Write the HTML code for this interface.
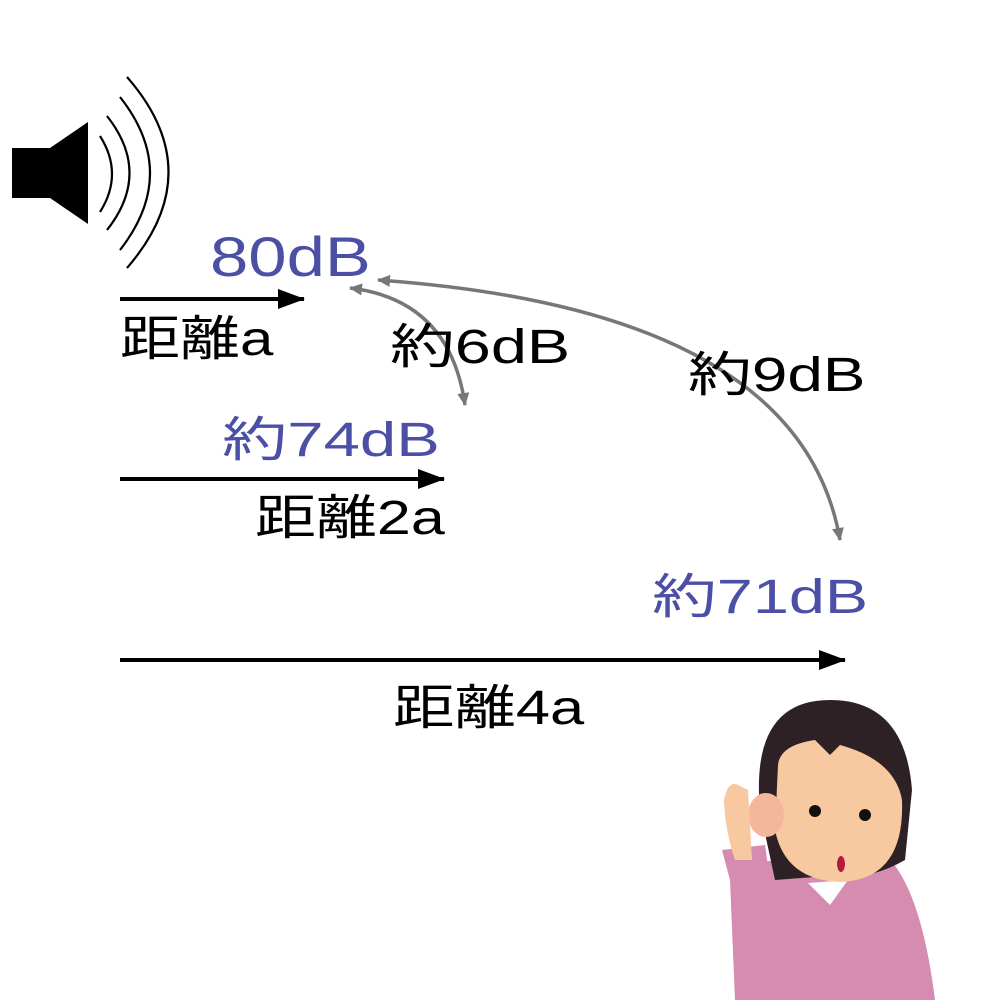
<!DOCTYPE html>
<html><head><meta charset="utf-8"><style>
html,body{margin:0;padding:0;background:#fff}
.t{position:absolute;font-family:"Liberation Sans","Noto Sans CJK JP",sans-serif;white-space:nowrap;line-height:1;transform-origin:0 0}
.b{color:#4b4fa6}
</style></head><body>
<div style="position:relative;width:1000px;height:1000px;overflow:hidden">
<svg width="1000" height="1000" style="position:absolute;left:0;top:0">
<defs>
<marker id="ag" markerWidth="14" markerHeight="14" refX="12" refY="7" orient="auto-start-reverse" markerUnits="userSpaceOnUse"><path d="M0,1 L13,7 L0,13z" fill="#777"/></marker>
<marker id="bk" markerWidth="28" markerHeight="20" refX="26" refY="10" orient="auto" markerUnits="userSpaceOnUse"><path d="M0,0 L27,10 L0,20z" fill="#000"/></marker>
</defs>
<rect x="12" y="148" width="38" height="50" fill="#000"/>
<path d="M50,148 L88,122 L88,224 L50,198z" fill="#000"/>
<g fill="none" stroke="#000" stroke-width="2.2">
<path d="M100,136 Q124,174 100,212"/>
<path d="M107,116 Q152,173 107,230"/>
<path d="M120,97 Q180,173 120,250"/>
<path d="M127,77 Q210,172 127,268"/>
</g>
<g stroke="#000" stroke-width="4">
<line x1="120" y1="299" x2="304" y2="299" marker-end="url(#bk)"/>
<line x1="120" y1="479" x2="444" y2="479" marker-end="url(#bk)"/>
<line x1="120" y1="660" x2="845" y2="660" marker-end="url(#bk)"/>
</g>
<g fill="none" stroke="#777" stroke-width="3.5">
<path d="M350,288 Q450,300 465,405" marker-start="url(#ag)" marker-end="url(#ag)"/>
<path d="M378,280 Q800,310 840,540" marker-start="url(#ag)" marker-end="url(#ag)"/>
</g>
<path d="M735,1000 L730,880 Q740,860 790,860 L880,850 Q920,880 935,1000z" fill="#d58cb0"/>
<path d="M730,880 L722,850 L765,845 L770,880z" fill="#d58cb0"/>
<path d="M808,883 L830,905 L848,880z" fill="#fff"/>
<path d="M760,810 Q750,700 830,700 Q905,700 912,790 L905,860 Q870,880 840,875 L775,880z" fill="#2e2125"/>
<path d="M778,765 Q780,745 815,740 L830,755 L840,745 Q895,760 902,800 Q905,880 840,882 Q785,880 775,830z" fill="#f8c8a0"/>
<ellipse cx="766" cy="815" rx="18" ry="22" fill="#f4b79c"/>
<path d="M724,800 Q728,780 738,785 L748,790 L752,860 L735,860 Q725,830 724,800z" fill="#f8c8a0"/>
<circle cx="815" cy="811" r="6" fill="#111"/><circle cx="865" cy="815" r="6" fill="#111"/>
<ellipse cx="841" cy="864" rx="4" ry="8" fill="#b01c3c"/>
</svg>
<div class="t b" style="left:210px;top:229px;font-size:56px;transform:scaleX(1.23)">80dB</div>
<div class="t" style="left:120px;top:316px;font-size:48px;transform:scaleX(1.25)">距離a</div>
<div class="t" style="left:390px;top:324px;font-size:48px;transform:scaleX(1.35)">約6dB</div>
<div class="t" style="left:688px;top:352px;font-size:48px;transform:scaleX(1.33)">約9dB</div>
<div class="t b" style="left:222px;top:417px;font-size:48px;transform:scaleX(1.36)">約74dB</div>
<div class="t" style="left:255px;top:495px;font-size:48px;transform:scaleX(1.27)">距離2a</div>
<div class="t b" style="left:652px;top:574px;font-size:48px;transform:scaleX(1.35)">約71dB</div>
<div class="t" style="left:393px;top:685px;font-size:48px;transform:scaleX(1.28)">距離4a</div>
</div>
</body></html>
